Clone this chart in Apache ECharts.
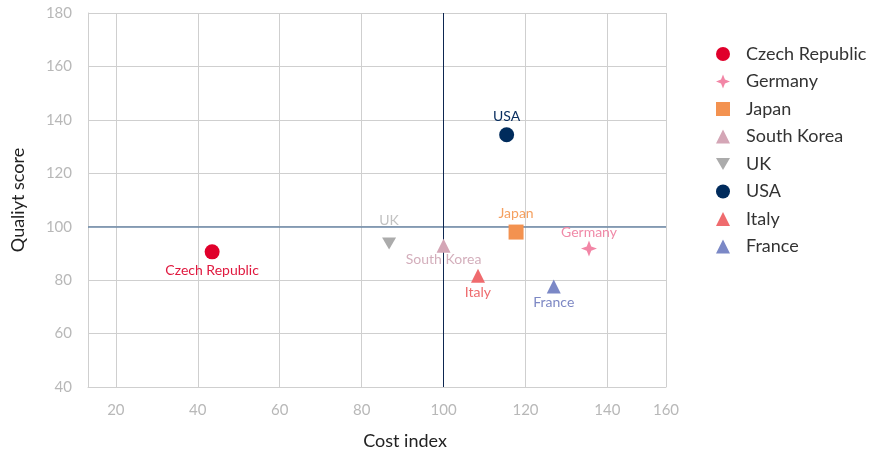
<!DOCTYPE html>
<html>
<head>
<meta charset="utf-8">
<script src="https://cdn.jsdelivr.net/npm/echarts@6/dist/echarts.min.js"></script>
<style>html,body{margin:0;padding:0;background:#fff}#c{width:873px;height:451px}</style>
</head>
<body>
<div id="c"></div>
<script>
const countries = ['Czech Republic','Germany','Japan','South Korea','UK','USA','Italy','France'];
const costIndex = [43.5, 135.5, 117.7, 100, 86.7, 115.4, 108.4, 126.9];
const qualityScore = [90.6, 91.8, 98.0, 92.9, 93.7, 134.4, 81.6, 77.6];
const xMin = 13.2, xMax = 154.3;
const yMin = 40, yMax = 180, yStep = 20;
const xEndLabel = '160';
const refX = 100, refY = 100;

const styles = {
  'Czech Republic': {color:'#e0002b', label:'#e0193f', symbol:'circle', size:15, pos:'bottom', dist:4.5},
  'Germany': {color:'#f286a6', label:'#f08aa8', symbol:'path://M0,-10 L2.8,-2.8 L10,0 L2.8,2.8 L0,10 L-2.8,2.8 L-10,0 L-2.8,-2.8 Z', size:16, pos:'top', dist:1},
  'Japan': {color:'#f39250', label:'#f5a060', symbol:'rect', size:15, pos:'top', dist:4},
  'South Korea': {color:'#d4a6b6', label:'#d3aebb', symbol:'triangle', size:14, pos:'bottom', dist:-0.5},
  'UK': {color:'#ababab', label:'#c2c2c2', symbol:'path://M-10,-8 L10,-8 L0,9 Z', size:14, pos:'top', dist:10},
  'USA': {color:'#002b5c', label:'#0a2f60', symbol:'circle', size:15, pos:'top', dist:4},
  'Italy': {color:'#ef6b6e', label:'#ee6b6e', symbol:'triangle', size:14, pos:'bottom', dist:2.5},
  'France': {color:'#7b88c6', label:'#7d88c4', symbol:'triangle', size:14, pos:'bottom', dist:2}
};

const series = countries.map((name, i) => {
  const s = styles[name];
  return {
    name: name,
    type: 'scatter',
    symbol: s.symbol,
    symbolSize: s.size,
    symbolKeepAspect: true,
    itemStyle: {color: s.color, opacity: 1},
    data: [[costIndex[i], qualityScore[i]]],
    label: {
      show: true, position: s.pos, distance: s.dist,
      formatter: name, color: s.label,
      fontFamily: 'Lato', fontSize: 14
    },
    emphasis: {disabled: true},
    z: 5
  };
});
series.push({
  type: 'scatter', data: [], silent: true,
  markLine: {
    silent: true, symbol: 'none', animation: false,
    label: {show: false},
    data: [
      {yAxis: refY, lineStyle: {color: '#6b87a6', width: 1.5, type: 'solid'}},
      {xAxis: refX, lineStyle: {color: '#0d2650', width: 1, type: 'solid'}}
    ]
  },
  z: 3
});

const chart = echarts.init(document.getElementById('c'), null, {renderer: 'canvas'});
chart.setOption({
  animation: false,
  backgroundColor: '#fff',
  grid: {left: 88, right: 207, top: 13, bottom: 64, containLabel: false, outerBoundsMode: 'none'},
  xAxis: {
    type: 'value', min: xMin, max: xMax, splitNumber: 7, minInterval: 20, maxInterval: 20,
    name: 'Cost index', nameLocation: 'middle', nameGap: 45,
    nameTextStyle: {color: '#222', fontFamily: 'Lato', fontSize: 18, padding: [0, 0, 0, 56]},
    axisLine: {show: true, lineStyle: {color: '#cfcfcf'}},
    axisTick: {show: false},
    axisLabel: {
      color: '#b8b8b8', fontFamily: 'Lato', fontSize: 15, margin: 16,
      showMinLabel: false, showMaxLabel: true,
      formatter: v => (Math.abs(v - xMax) < 0.01 ? xEndLabel : (Math.abs(v - xMin) < 0.01 ? '' : String(v)))
    },
    splitLine: {show: true, lineStyle: {color: '#cfcfcf', width: 1}}
  },
  yAxis: {
    type: 'value', min: yMin, max: yMax, interval: yStep,
    name: 'Qualiyt score', nameLocation: 'middle', nameGap: 61, nameRotate: 90,
    nameTextStyle: {color: '#222', fontFamily: 'Lato', fontSize: 18},
    axisLine: {show: true, lineStyle: {color: '#cfcfcf'}},
    axisTick: {show: false},
    axisLabel: {color: '#b8b8b8', fontFamily: 'Lato', fontSize: 15, margin: 16},
    splitLine: {show: true, lineStyle: {color: '#cfcfcf', width: 1}}
  },
  legend: {
    orient: 'vertical', left: 711, top: 40,
    itemWidth: 14, itemHeight: 14, itemGap: 9.5,
    textStyle: {color: '#333', fontFamily: 'Lato', fontSize: 18, padding: [0, 0, 0, 11]},
    data: countries,
    selectedMode: false
  },
  series: series
});
</script>
</body>
</html>
